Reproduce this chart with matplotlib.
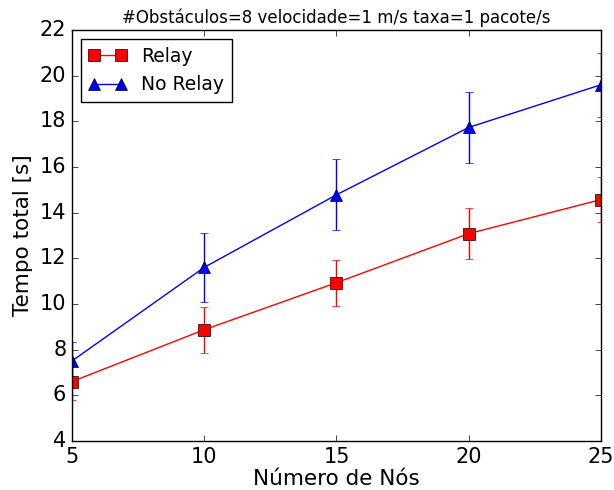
import matplotlib
matplotlib.use('Agg')
import matplotlib.pyplot as plt

plt.style.use('classic')

# Dados
nos = [5, 10, 15, 20, 25]

relay = [6.6, 8.87, 10.93, 13.08, 14.57]
relay_err = [0.8, 1.0, 1.0, 1.1, 1.0]

no_relay = [7.5, 11.6, 14.78, 17.73, 19.6]
no_relay_err = [0.85, 1.5, 1.55, 1.55, 1.4]

fig = plt.figure(figsize=(6.14, 4.9), dpi=100)
ax = fig.add_axes([0.117, 0.1, 0.862, 0.839])

ax.errorbar(nos, relay, yerr=relay_err, fmt='none', ecolor='red', capsize=3)
ax.errorbar(nos, no_relay, yerr=no_relay_err, fmt='none', ecolor='blue', capsize=3)
ax.plot(nos, relay, color='red', marker='s', markersize=8, label='Relay')
ax.plot(nos, no_relay, color='blue', marker='^', markersize=8, label='No Relay')

ax.set_title('#Obstáculos=8 velocidade=1 m/s taxa=1 pacote/s', fontsize=12)
ax.set_xlabel('Número de Nós', fontsize=15.5, labelpad=2)
ax.set_ylabel('Tempo total [s]', fontsize=15.5)
ax.set_xlim(5, 25)
ax.set_ylim(4, 22)
ax.set_xticks(nos)
ax.tick_params(labelsize=15)
ax.legend(loc='upper left', fontsize=13.5, numpoints=2)

fig.savefig('out.png', dpi=100)
